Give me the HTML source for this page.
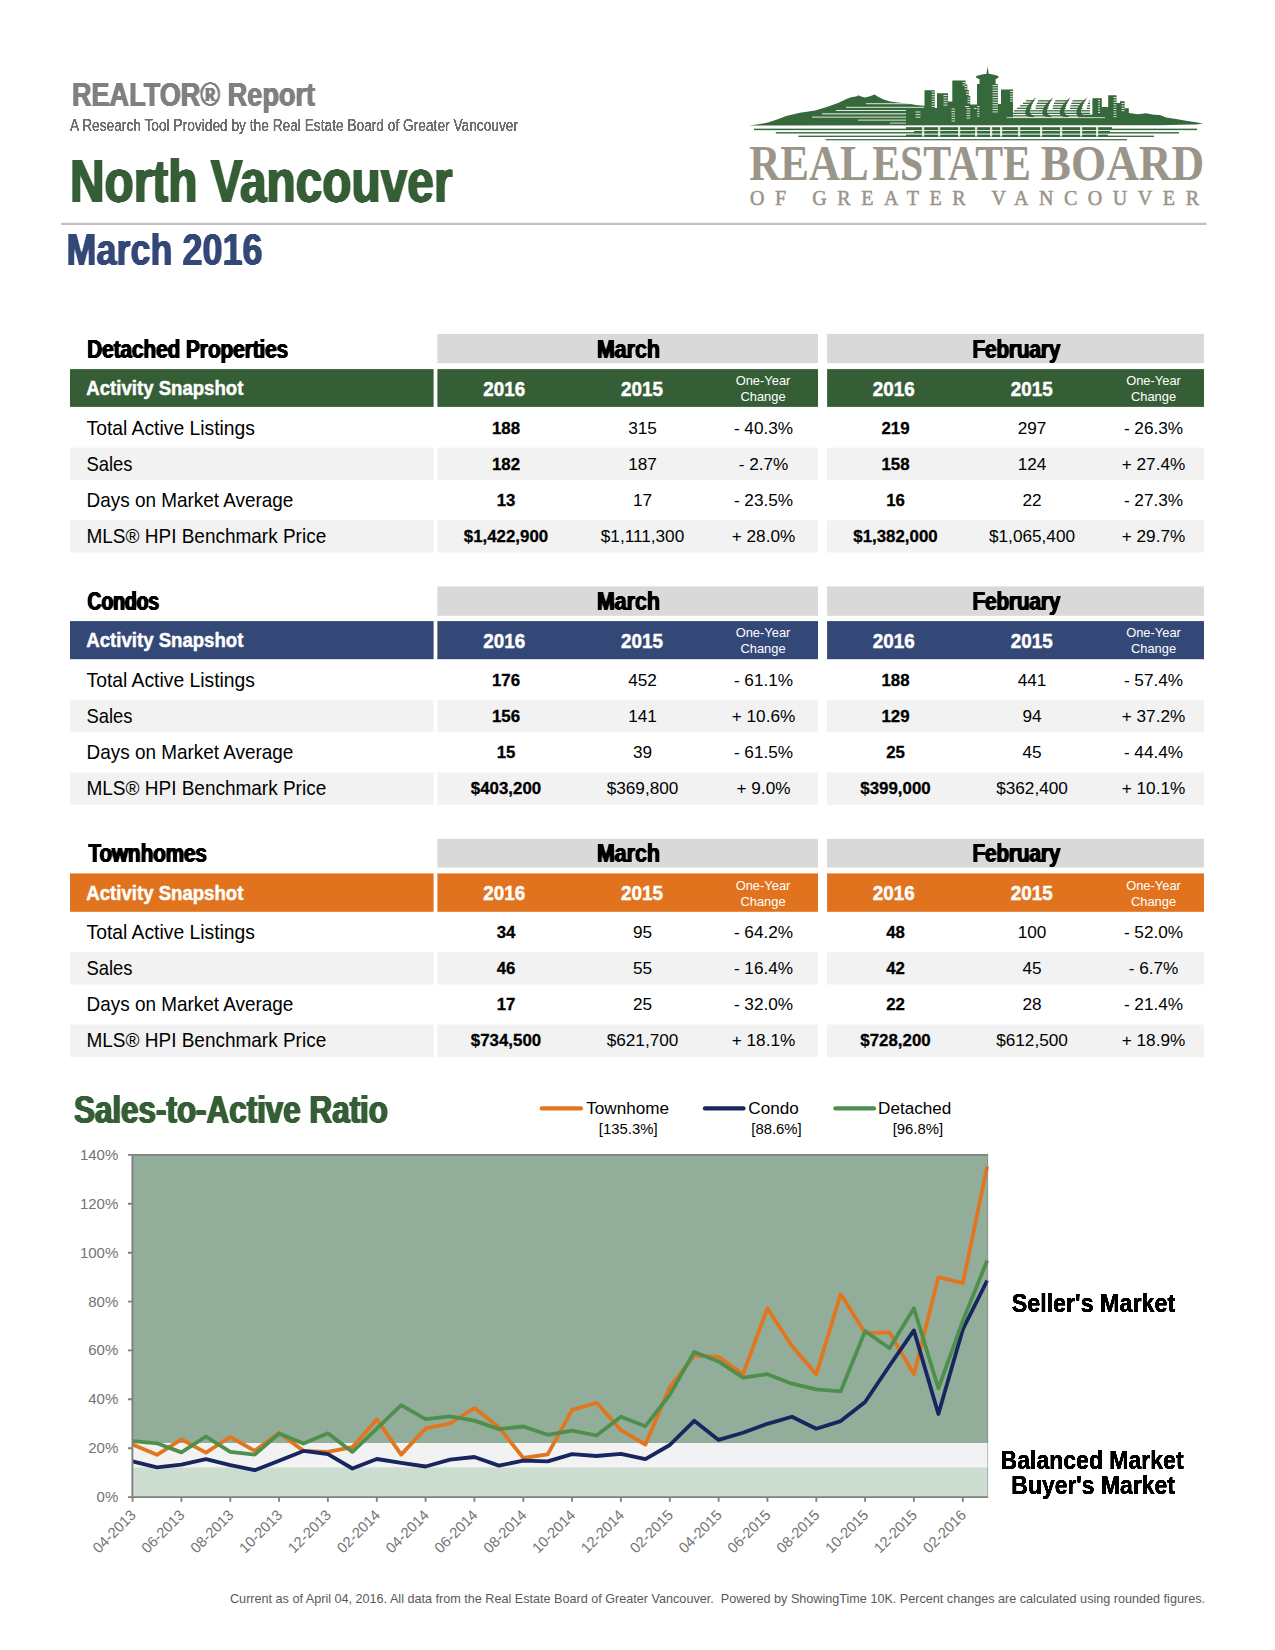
<!DOCTYPE html>
<html lang="en"><head><meta charset="utf-8"><title>REALTOR® Report - North Vancouver - March 2016</title>
<style>
html,body{margin:0;padding:0;background:#fff}
body{width:1275px;height:1650px;overflow:hidden;font-family:"Liberation Sans",Arial,sans-serif}
svg{display:block}
text{white-space:pre}
</style></head><body>
<svg width="1275" height="1650" viewBox="0 0 1275 1650">
<rect width="1275" height="1650" fill="#fff"/>
<defs><filter id="fat7" x="-2%" y="-20%" width="104%" height="140%" color-interpolation-filters="sRGB"><feGaussianBlur stdDeviation="0.7 0"/><feComponentTransfer><feFuncA type="linear" slope="3" intercept="-0.214"/></feComponentTransfer></filter><filter id="fat9" x="-2%" y="-20%" width="104%" height="140%" color-interpolation-filters="sRGB"><feGaussianBlur stdDeviation="0.7 0"/><feComponentTransfer><feFuncA type="linear" slope="3" intercept="-0.019"/></feComponentTransfer></filter><filter id="fat11" x="-2%" y="-20%" width="104%" height="140%" color-interpolation-filters="sRGB"><feGaussianBlur stdDeviation="1.0 0"/><feComponentTransfer><feFuncA type="linear" slope="3" intercept="-0.474"/></feComponentTransfer></filter><filter id="fat12" x="-2%" y="-20%" width="104%" height="140%" color-interpolation-filters="sRGB"><feGaussianBlur stdDeviation="1.0 0"/><feComponentTransfer><feFuncA type="linear" slope="3" intercept="-0.439"/></feComponentTransfer></filter><filter id="fat13" x="-2%" y="-20%" width="104%" height="140%" color-interpolation-filters="sRGB"><feGaussianBlur stdDeviation="1.0 0"/><feComponentTransfer><feFuncA type="linear" slope="3" intercept="-0.404"/></feComponentTransfer></filter><filter id="fat14" x="-2%" y="-20%" width="104%" height="140%" color-interpolation-filters="sRGB"><feGaussianBlur stdDeviation="1.0 0"/><feComponentTransfer><feFuncA type="linear" slope="3" intercept="-0.368"/></feComponentTransfer></filter><filter id="fat18" x="-2%" y="-20%" width="104%" height="140%" color-interpolation-filters="sRGB"><feGaussianBlur stdDeviation="1.0 0"/><feComponentTransfer><feFuncA type="linear" slope="3" intercept="-0.228"/></feComponentTransfer></filter><filter id="fat19" x="-2%" y="-20%" width="104%" height="140%" color-interpolation-filters="sRGB"><feGaussianBlur stdDeviation="1.0 0"/><feComponentTransfer><feFuncA type="linear" slope="3" intercept="-0.193"/></feComponentTransfer></filter></defs>
<text x="72.0" y="105.5" font-family='"Liberation Sans", Arial, sans-serif' font-size="33.7" fill="#808080" font-weight="bold" textLength="243.0" lengthAdjust="spacingAndGlyphs" filter="url(#fat11)">REALTOR® Report</text>
<text x="70.0" y="131.4" font-family='"Liberation Sans", Arial, sans-serif' font-size="16.3" fill="#6e6e6e" textLength="448.0" lengthAdjust="spacingAndGlyphs" filter="url(#fat7)">A Research Tool Provided by the Real Estate Board of Greater Vancouver</text>
<text x="70.0" y="201.8" font-family='"Liberation Sans", Arial, sans-serif' font-size="61" fill="#355e36" font-weight="bold" textLength="382.5" lengthAdjust="spacingAndGlyphs" filter="url(#fat19)">North Vancouver</text>
<rect x="61.0" y="222.8" width="1145.5" height="2.2" fill="#c0c0c0"/>
<text x="66.5" y="265.0" font-family='"Liberation Sans", Arial, sans-serif' font-size="43.7" fill="#344878" font-weight="bold" textLength="196.0" lengthAdjust="spacingAndGlyphs" filter="url(#fat13)">March 2016</text>
<g id="logo">
<path d="M749,125.6 L757,124.6 L768,122.6 L777,119.5 L787,115.8 L800,112.8 L815,110.6 L826,107.2 L838,103 L846,99.3 L851,97.2 L856,96.4 L858.6,95.2 L861,96.6 L865,97.6 L870,96.2 L874.6,94.6 L878,96.8 L883,99.2 L890,101.4 L898,102.6 L907.5,103.6 L916,105 L924.5,105.8 L924.5,90.2 L934.8,90.2 L934.8,108 L937,108 L937,93.2 L948,93.2 L948,101.5 L952.3,101.5 L952.3,80.4 L965.6,80.4 L965.6,84.5 L967.3,84.5 L967.3,90 L968.8,90 L968.8,96 L970.3,96 L970.3,104.6 L977,104.6 L977,84 L979.5,84 L979.5,79.2 L976.2,77.8 L976.2,76 L982,74.6 L986.5,73.8 L987.6,66.5 L988.7,73.8 L993,74.6 L998.4,76 L998.4,77.8 L995.6,79.2 L995.6,84 L998,84 L998,104 L1001,104 L1001,89.4 L1013,89.4 L1013,102.5 L1013,117.6 L1092.4,117.6 L1092.4,98.2 L1101.8,98.2 L1101.8,107 L1108.2,107 L1108.2,95.3 L1116.5,95.3 L1116.5,103 L1120,103 L1120,101.2 L1124.7,101.2 L1124.7,108.2 L1128.8,108.2 L1128.8,113 L1138,114.2 L1146,113.2 L1154,114.8 L1160,115 L1166,117.6 L1176,119 L1186,120.8 L1196,122.3 L1203,123.6 L1196,124.6 L1180,124.8 L1160,125.2 Z" fill="#35683a"/>
<rect x="866" y="103.2" width="44" height="1.0" fill="#fff" opacity=".85"/>
<rect x="846" y="106.8" width="78" height="1.0" fill="#fff" opacity=".85"/>
<rect x="836" y="110.0" width="70" height="1.0" fill="#fff" opacity=".85"/>
<rect x="822" y="113.3" width="84" height="1.1" fill="#fff" opacity=".85"/>
<rect x="812" y="116.6" width="94" height="1.0" fill="#fff" opacity=".85"/>
<rect x="858" y="119.6" width="48" height="1.0" fill="#fff" opacity=".85"/>
<rect x="890" y="122.6" width="16" height="0.9" fill="#fff" opacity=".85"/>
<rect x="931.6" y="91.5" width="3.2" height="1.0" fill="#fff" opacity="0.8"/>
<rect x="931.6" y="93.9" width="3.2" height="1.0" fill="#fff" opacity="0.8"/>
<rect x="931.6" y="96.3" width="3.2" height="1.0" fill="#fff" opacity="0.8"/>
<rect x="931.6" y="98.7" width="3.2" height="1.0" fill="#fff" opacity="0.8"/>
<rect x="931.6" y="101.1" width="3.2" height="1.0" fill="#fff" opacity="0.8"/>
<rect x="931.6" y="103.5" width="3.2" height="1.0" fill="#fff" opacity="0.8"/>
<rect x="931.6" y="105.9" width="3.2" height="1.0" fill="#fff" opacity="0.8"/>
<rect x="943.5" y="95.0" width="4.0" height="1.0" fill="#fff" opacity="0.8"/>
<rect x="943.5" y="97.4" width="4.0" height="1.0" fill="#fff" opacity="0.8"/>
<rect x="943.5" y="99.8" width="4.0" height="1.0" fill="#fff" opacity="0.8"/>
<rect x="943.5" y="102.2" width="4.0" height="1.0" fill="#fff" opacity="0.8"/>
<rect x="943.5" y="104.6" width="4.0" height="1.0" fill="#fff" opacity="0.8"/>
<rect x="962.5" y="82.0" width="3.1" height="1.0" fill="#fff" opacity="0.8"/>
<rect x="962.5" y="84.4" width="3.1" height="1.0" fill="#fff" opacity="0.8"/>
<rect x="964.5" y="86.0" width="2.8" height="1.0" fill="#fff" opacity="0.8"/>
<rect x="964.5" y="88.4" width="2.8" height="1.0" fill="#fff" opacity="0.8"/>
<rect x="966" y="91.5" width="2.8" height="1.0" fill="#fff" opacity="0.8"/>
<rect x="966" y="93.9" width="2.8" height="1.0" fill="#fff" opacity="0.8"/>
<rect x="967.5" y="97.5" width="2.8" height="1.0" fill="#fff" opacity="0.8"/>
<rect x="967.5" y="99.9" width="2.8" height="1.0" fill="#fff" opacity="0.8"/>
<rect x="967.5" y="102.3" width="2.8" height="1.0" fill="#fff" opacity="0.8"/>
<rect x="915.5" y="111.5" width="5.0" height="1.0" fill="#fff" opacity="0.8"/>
<rect x="915.5" y="114.1" width="5.0" height="1.0" fill="#fff" opacity="0.8"/>
<rect x="915.5" y="116.7" width="5.0" height="1.0" fill="#fff" opacity="0.8"/>
<rect x="951.5" y="108.5" width="3.5" height="1.0" fill="#fff" opacity="0.8"/>
<rect x="951.5" y="110.9" width="3.5" height="1.0" fill="#fff" opacity="0.8"/>
<rect x="951.5" y="113.3" width="3.5" height="1.0" fill="#fff" opacity="0.8"/>
<rect x="951.5" y="115.7" width="3.5" height="1.0" fill="#fff" opacity="0.8"/>
<rect x="951.5" y="118.1" width="3.5" height="1.0" fill="#fff" opacity="0.8"/>
<rect x="951.5" y="120.5" width="3.5" height="1.0" fill="#fff" opacity="0.8"/>
<rect x="966.5" y="108.0" width="3.8" height="1.0" fill="#fff" opacity="0.8"/>
<rect x="966.5" y="110.4" width="3.8" height="1.0" fill="#fff" opacity="0.8"/>
<rect x="966.5" y="112.8" width="3.8" height="1.0" fill="#fff" opacity="0.8"/>
<rect x="966.5" y="115.2" width="3.8" height="1.0" fill="#fff" opacity="0.8"/>
<rect x="966.5" y="117.6" width="3.8" height="1.0" fill="#fff" opacity="0.8"/>
<rect x="974" y="108.0" width="2.5" height="1.0" fill="#fff" opacity="0.8"/>
<rect x="965" y="106.0" width="4.0" height="1.0" fill="#fff" opacity="0.8"/>
<rect x="992.5" y="85.0" width="5.5" height="1.0" fill="#fff" opacity="0.8"/>
<rect x="992.5" y="87.4" width="5.5" height="1.0" fill="#fff" opacity="0.8"/>
<rect x="992.5" y="89.8" width="5.5" height="1.0" fill="#fff" opacity="0.8"/>
<rect x="992.5" y="92.2" width="5.5" height="1.0" fill="#fff" opacity="0.8"/>
<rect x="992.5" y="94.6" width="5.5" height="1.0" fill="#fff" opacity="0.8"/>
<rect x="992.5" y="97.0" width="5.5" height="1.0" fill="#fff" opacity="0.8"/>
<rect x="992.5" y="99.4" width="5.5" height="1.0" fill="#fff" opacity="0.8"/>
<rect x="992.5" y="101.8" width="5.5" height="1.0" fill="#fff" opacity="0.8"/>
<rect x="992.5" y="104.2" width="5.5" height="1.0" fill="#fff" opacity="0.8"/>
<rect x="992.5" y="106.6" width="5.5" height="1.0" fill="#fff" opacity="0.8"/>
<rect x="992.5" y="109.0" width="5.5" height="1.0" fill="#fff" opacity="0.8"/>
<rect x="992.5" y="111.4" width="5.5" height="1.0" fill="#fff" opacity="0.8"/>
<rect x="977" y="106.0" width="2.5" height="1.0" fill="#fff" opacity="0.8"/>
<rect x="977" y="108.4" width="2.5" height="1.0" fill="#fff" opacity="0.8"/>
<rect x="977" y="110.8" width="2.5" height="1.0" fill="#fff" opacity="0.8"/>
<rect x="977" y="113.2" width="2.5" height="1.0" fill="#fff" opacity="0.8"/>
<rect x="977" y="115.6" width="2.5" height="1.0" fill="#fff" opacity="0.8"/>
<rect x="1010" y="91.0" width="3.0" height="1.0" fill="#fff" opacity="0.8"/>
<rect x="1010" y="93.4" width="3.0" height="1.0" fill="#fff" opacity="0.8"/>
<rect x="1010" y="95.8" width="3.0" height="1.0" fill="#fff" opacity="0.8"/>
<rect x="1010" y="98.2" width="3.0" height="1.0" fill="#fff" opacity="0.8"/>
<rect x="1010" y="100.6" width="3.0" height="1.0" fill="#fff" opacity="0.8"/>
<rect x="1098" y="100.0" width="2.0" height="1.0" fill="#fff" opacity="0.8"/>
<rect x="1098" y="102.4" width="2.0" height="1.0" fill="#fff" opacity="0.8"/>
<rect x="1098" y="104.8" width="2.0" height="1.0" fill="#fff" opacity="0.8"/>
<rect x="1098" y="107.2" width="2.0" height="1.0" fill="#fff" opacity="0.8"/>
<rect x="1098" y="109.6" width="2.0" height="1.0" fill="#fff" opacity="0.8"/>
<rect x="1098" y="112.0" width="2.0" height="1.0" fill="#fff" opacity="0.8"/>
<rect x="1113.5" y="97.0" width="2.9" height="1.0" fill="#fff" opacity="0.8"/>
<rect x="1113.5" y="99.4" width="2.9" height="1.0" fill="#fff" opacity="0.8"/>
<rect x="1113.5" y="101.8" width="2.9" height="1.0" fill="#fff" opacity="0.8"/>
<rect x="1113.5" y="104.2" width="2.9" height="1.0" fill="#fff" opacity="0.8"/>
<rect x="1113.5" y="106.6" width="2.9" height="1.0" fill="#fff" opacity="0.8"/>
<rect x="1113.5" y="109.0" width="2.9" height="1.0" fill="#fff" opacity="0.8"/>
<rect x="1113.5" y="111.4" width="2.9" height="1.0" fill="#fff" opacity="0.8"/>
<rect x="1113.5" y="113.8" width="2.9" height="1.0" fill="#fff" opacity="0.8"/>
<rect x="1113.5" y="116.2" width="2.9" height="1.0" fill="#fff" opacity="0.8"/>
<rect x="1121.5" y="103.0" width="3.1" height="1.0" fill="#fff" opacity="0.8"/>
<rect x="1121.5" y="105.4" width="3.1" height="1.0" fill="#fff" opacity="0.8"/>
<rect x="1121.5" y="107.8" width="3.1" height="1.0" fill="#fff" opacity="0.8"/>
<rect x="1121.5" y="110.2" width="3.1" height="1.0" fill="#fff" opacity="0.8"/>
<rect x="1026.0" y="100.2" width="64.0" height="1.25" fill="#35683a"/>
<rect x="1023.0" y="102.7" width="67.0" height="1.25" fill="#35683a"/>
<rect x="1020.0" y="105.2" width="70.0" height="1.25" fill="#35683a"/>
<rect x="1017.0" y="107.7" width="73.0" height="1.25" fill="#35683a"/>
<rect x="1014.0" y="110.2" width="76.0" height="1.25" fill="#35683a"/>
<rect x="1011.0" y="112.7" width="79.0" height="1.25" fill="#35683a"/>
<rect x="1008.0" y="115.2" width="82.0" height="1.25" fill="#35683a"/>
<path d="M1037.1,97.2 C1033.5,101 1031.0,106 1031.3,110 L1035.3,110 C1035.5,105 1038.0,100.6 1039.9,97.2 Z" fill="#fff"/>
<path d="M1036.5,97.2 C1030.5,101 1024.7,108 1025.3,113.6 C1025.7,116.4 1028.5,117.4 1034.0,117.2 L1034.0,115.6 C1030.1,115 1029.3,112 1030.3,108.5 C1031.5,104 1033.9,100 1036.5,97.2 Z" fill="#35683a"/>
<path d="M1054.1999999999998,97.2 C1050.6,101 1048.1,106 1048.3999999999999,110 L1052.3999999999999,110 C1052.6,105 1055.1,100.6 1057.0,97.2 Z" fill="#fff"/>
<path d="M1053.6,97.2 C1047.6,101 1041.8,108 1042.3999999999999,113.6 C1042.8,116.4 1045.6,117.4 1051.1,117.2 L1051.1,115.6 C1047.1999999999998,115 1046.3999999999999,112 1047.3999999999999,108.5 C1048.6,104 1051.0,100 1053.6,97.2 Z" fill="#35683a"/>
<path d="M1071.6,97.2 C1068.0,101 1065.5,106 1065.8,110 L1069.8,110 C1070.0,105 1072.5,100.6 1074.4,97.2 Z" fill="#fff"/>
<path d="M1071.0,97.2 C1065.0,101 1059.2,108 1059.8,113.6 C1060.2,116.4 1063.0,117.4 1068.5,117.2 L1068.5,115.6 C1064.6,115 1063.8,112 1064.8,108.5 C1066.0,104 1068.4,100 1071.0,97.2 Z" fill="#35683a"/>
<path d="M1088.1999999999998,97.2 C1084.6,101 1082.1,106 1082.3999999999999,110 L1086.3999999999999,110 C1086.6,105 1089.1,100.6 1091.0,97.2 Z" fill="#fff"/>
<path d="M1087.6,97.2 C1081.6,101 1075.8,108 1076.3999999999999,113.6 C1076.8,116.4 1079.6,117.4 1085.1,117.2 L1085.1,115.6 C1081.1999999999998,115 1080.3999999999999,112 1081.3999999999999,108.5 C1082.6,104 1085.0,100 1087.6,97.2 Z" fill="#35683a"/>
<rect x="1078" y="114.6" width="15" height="3.2" fill="#35683a"/>
<rect x="1006.5" y="117.3" width="98.5" height="0.8" fill="#fff" opacity=".9"/>
<rect x="754" y="128.65" width="443" height="1.5" fill="#35683a"/>
<rect x="775.8" y="132.10" width="403.20000000000005" height="1.4" fill="#35683a"/>
<rect x="798.4" y="135.65" width="355.6" height="1.3" fill="#35683a"/>
<rect x="825.6" y="139.10" width="301.4" height="1.2" fill="#35683a"/>
<rect x="906" y="127.2" width="206" height="2.4" fill="#35683a"/>
<rect x="914" y="131.0" width="196" height="2.2" fill="#35683a"/>
<rect x="906" y="134.6" width="202" height="1.8" fill="#35683a"/>
<rect x="922" y="126.8" width="2.2" height="9.8" fill="#fff" opacity=".8"/>
<rect x="938" y="126.8" width="2.2" height="9.8" fill="#fff" opacity=".8"/>
<rect x="958" y="126.8" width="2.2" height="9.8" fill="#fff" opacity=".8"/>
<rect x="975" y="126.8" width="2.2" height="9.8" fill="#fff" opacity=".8"/>
<rect x="990" y="126.8" width="2.2" height="9.8" fill="#fff" opacity=".8"/>
<rect x="1000" y="126.8" width="2.2" height="9.8" fill="#fff" opacity=".8"/>
<rect x="1018" y="126.8" width="2.2" height="9.8" fill="#fff" opacity=".8"/>
<rect x="1040" y="126.8" width="2.2" height="9.8" fill="#fff" opacity=".8"/>
<rect x="1060" y="126.8" width="2.2" height="9.8" fill="#fff" opacity=".8"/>
<rect x="1080" y="126.8" width="2.2" height="9.8" fill="#fff" opacity=".8"/>
<rect x="1096" y="126.8" width="2.2" height="9.8" fill="#fff" opacity=".8"/>
<filter id="fatlogo" x="-2%" y="-20%" width="104%" height="140%" color-interpolation-filters="sRGB"><feGaussianBlur stdDeviation="1 0"/><feComponentTransfer><feFuncA type="linear" slope="3" intercept="-0.45"/></feComponentTransfer></filter>
<text y="179.6" font-family='"Liberation Serif", "Times New Roman", serif' font-weight="bold" font-size="50.8" fill="#9a9489"><tspan x="749.3" textLength="117" lengthAdjust="spacingAndGlyphs">REAL</tspan> <tspan x="872.2" textLength="158.8" lengthAdjust="spacingAndGlyphs">ESTATE</tspan> <tspan x="1040.8" textLength="163.4" lengthAdjust="spacingAndGlyphs">BOARD</tspan></text>
<text x="750" y="204.6" font-family='"Liberation Serif", "Times New Roman", serif' font-size="20" fill="#9a9489" stroke="#9a9489" stroke-width="0.5" textLength="449" lengthAdjust="spacing">OF GREATER VANCOUVER</text>
</g>

<g id="table1">
<text x="87.3" y="357.8" font-family='"Liberation Sans", Arial, sans-serif' font-size="25.6" fill="#000" font-weight="bold" textLength="201.0" lengthAdjust="spacingAndGlyphs" filter="url(#fat12)">Detached Properties</text>
<rect x="437.4" y="333.9" width="380.6" height="29.2" fill="#d9d9d9"/>
<rect x="827.1" y="333.9" width="376.9" height="29.2" fill="#d9d9d9"/>
<text x="628.5" y="357.8" font-family='"Liberation Sans", Arial, sans-serif' font-size="25.6" fill="#000" font-weight="bold" text-anchor="middle" textLength="63.0" lengthAdjust="spacingAndGlyphs" filter="url(#fat11)">March</text>
<text x="1016.5" y="357.8" font-family='"Liberation Sans", Arial, sans-serif' font-size="25.6" fill="#000" font-weight="bold" text-anchor="middle" textLength="88.0" lengthAdjust="spacingAndGlyphs" filter="url(#fat12)">February</text>
<rect x="70.0" y="369.1" width="363.6" height="37.8" fill="#355e36"/>
<rect x="437.4" y="369.1" width="380.6" height="37.8" fill="#355e36"/>
<rect x="827.1" y="369.1" width="376.9" height="37.8" fill="#355e36"/>
<text x="86.3" y="395.2" font-family='"Liberation Sans", Arial, sans-serif' font-size="19.3" fill="#fff" font-weight="bold" textLength="157.1" lengthAdjust="spacingAndGlyphs" stroke="#fff" stroke-width=".45">Activity Snapshot</text>
<text x="504.2" y="395.9" font-family='"Liberation Sans", Arial, sans-serif' font-size="19.3" fill="#fff" font-weight="bold" text-anchor="middle" textLength="41.8" lengthAdjust="spacingAndGlyphs" stroke="#fff" stroke-width=".45">2016</text>
<text x="642.0" y="395.9" font-family='"Liberation Sans", Arial, sans-serif' font-size="19.3" fill="#fff" font-weight="bold" text-anchor="middle" textLength="41.8" lengthAdjust="spacingAndGlyphs" stroke="#fff" stroke-width=".45">2015</text>
<text x="763.0" y="385.2" font-family='"Liberation Sans", Arial, sans-serif' font-size="12.9" fill="#fff" text-anchor="middle">One-Year</text>
<text x="763.0" y="401.2" font-family='"Liberation Sans", Arial, sans-serif' font-size="12.9" fill="#fff" text-anchor="middle">Change</text>
<text x="893.7" y="395.9" font-family='"Liberation Sans", Arial, sans-serif' font-size="19.3" fill="#fff" font-weight="bold" text-anchor="middle" textLength="41.8" lengthAdjust="spacingAndGlyphs" stroke="#fff" stroke-width=".45">2016</text>
<text x="1031.7" y="395.9" font-family='"Liberation Sans", Arial, sans-serif' font-size="19.3" fill="#fff" font-weight="bold" text-anchor="middle" textLength="41.8" lengthAdjust="spacingAndGlyphs" stroke="#fff" stroke-width=".45">2015</text>
<text x="1153.5" y="385.2" font-family='"Liberation Sans", Arial, sans-serif' font-size="12.9" fill="#fff" text-anchor="middle">One-Year</text>
<text x="1153.5" y="401.2" font-family='"Liberation Sans", Arial, sans-serif' font-size="12.9" fill="#fff" text-anchor="middle">Change</text>
<text x="86.5" y="434.6" font-family='"Liberation Sans", Arial, sans-serif' font-size="19.35" fill="#000" textLength="168.5" lengthAdjust="spacingAndGlyphs">Total Active Listings</text>
<text x="506.0" y="433.7" font-family='"Liberation Sans", Arial, sans-serif' font-size="17.2" fill="#000" font-weight="bold" text-anchor="middle" textLength="28.1" lengthAdjust="spacingAndGlyphs" stroke="#000" stroke-width=".3">188</text>
<text x="642.5" y="433.7" font-family='"Liberation Sans", Arial, sans-serif' font-size="17.2" fill="#000" text-anchor="middle">315</text>
<text x="763.5" y="433.7" font-family='"Liberation Sans", Arial, sans-serif' font-size="17.2" fill="#000" text-anchor="middle">- 40.3%</text>
<text x="895.5" y="433.7" font-family='"Liberation Sans", Arial, sans-serif' font-size="17.2" fill="#000" font-weight="bold" text-anchor="middle" textLength="28.1" lengthAdjust="spacingAndGlyphs" stroke="#000" stroke-width=".3">219</text>
<text x="1032.0" y="433.7" font-family='"Liberation Sans", Arial, sans-serif' font-size="17.2" fill="#000" text-anchor="middle">297</text>
<text x="1153.5" y="433.7" font-family='"Liberation Sans", Arial, sans-serif' font-size="17.2" fill="#000" text-anchor="middle">- 26.3%</text>
<rect x="70.0" y="447.6" width="363.6" height="32.4" fill="#f2f2f2"/>
<rect x="437.4" y="447.6" width="380.6" height="32.4" fill="#f2f2f2"/>
<rect x="827.1" y="447.6" width="376.9" height="32.4" fill="#f2f2f2"/>
<text x="86.5" y="470.7" font-family='"Liberation Sans", Arial, sans-serif' font-size="19.35" fill="#000" textLength="46.0" lengthAdjust="spacingAndGlyphs">Sales</text>
<text x="506.0" y="469.8" font-family='"Liberation Sans", Arial, sans-serif' font-size="17.2" fill="#000" font-weight="bold" text-anchor="middle" textLength="28.1" lengthAdjust="spacingAndGlyphs" stroke="#000" stroke-width=".3">182</text>
<text x="642.5" y="469.8" font-family='"Liberation Sans", Arial, sans-serif' font-size="17.2" fill="#000" text-anchor="middle">187</text>
<text x="763.5" y="469.8" font-family='"Liberation Sans", Arial, sans-serif' font-size="17.2" fill="#000" text-anchor="middle">- 2.7%</text>
<text x="895.5" y="469.8" font-family='"Liberation Sans", Arial, sans-serif' font-size="17.2" fill="#000" font-weight="bold" text-anchor="middle" textLength="28.1" lengthAdjust="spacingAndGlyphs" stroke="#000" stroke-width=".3">158</text>
<text x="1032.0" y="469.8" font-family='"Liberation Sans", Arial, sans-serif' font-size="17.2" fill="#000" text-anchor="middle">124</text>
<text x="1153.5" y="469.8" font-family='"Liberation Sans", Arial, sans-serif' font-size="17.2" fill="#000" text-anchor="middle">+ 27.4%</text>
<text x="86.5" y="506.7" font-family='"Liberation Sans", Arial, sans-serif' font-size="19.35" fill="#000" textLength="206.9" lengthAdjust="spacingAndGlyphs">Days on Market Average</text>
<text x="506.0" y="505.8" font-family='"Liberation Sans", Arial, sans-serif' font-size="17.2" fill="#000" font-weight="bold" text-anchor="middle" textLength="18.7" lengthAdjust="spacingAndGlyphs" stroke="#000" stroke-width=".3">13</text>
<text x="642.5" y="505.8" font-family='"Liberation Sans", Arial, sans-serif' font-size="17.2" fill="#000" text-anchor="middle">17</text>
<text x="763.5" y="505.8" font-family='"Liberation Sans", Arial, sans-serif' font-size="17.2" fill="#000" text-anchor="middle">- 23.5%</text>
<text x="895.5" y="505.8" font-family='"Liberation Sans", Arial, sans-serif' font-size="17.2" fill="#000" font-weight="bold" text-anchor="middle" textLength="18.7" lengthAdjust="spacingAndGlyphs" stroke="#000" stroke-width=".3">16</text>
<text x="1032.0" y="505.8" font-family='"Liberation Sans", Arial, sans-serif' font-size="17.2" fill="#000" text-anchor="middle">22</text>
<text x="1153.5" y="505.8" font-family='"Liberation Sans", Arial, sans-serif' font-size="17.2" fill="#000" text-anchor="middle">- 27.3%</text>
<rect x="70.0" y="520.1" width="363.6" height="32.4" fill="#f2f2f2"/>
<rect x="437.4" y="520.1" width="380.6" height="32.4" fill="#f2f2f2"/>
<rect x="827.1" y="520.1" width="376.9" height="32.4" fill="#f2f2f2"/>
<text x="86.5" y="542.8" font-family='"Liberation Sans", Arial, sans-serif' font-size="19.35" fill="#000" textLength="239.7" lengthAdjust="spacingAndGlyphs">MLS® HPI Benchmark Price</text>
<text x="506.0" y="541.9" font-family='"Liberation Sans", Arial, sans-serif' font-size="17.2" fill="#000" font-weight="bold" text-anchor="middle" textLength="84.3" lengthAdjust="spacingAndGlyphs" stroke="#000" stroke-width=".3">$1,422,900</text>
<text x="642.5" y="541.9" font-family='"Liberation Sans", Arial, sans-serif' font-size="17.2" fill="#000" text-anchor="middle">$1,111,300</text>
<text x="763.5" y="541.9" font-family='"Liberation Sans", Arial, sans-serif' font-size="17.2" fill="#000" text-anchor="middle">+ 28.0%</text>
<text x="895.5" y="541.9" font-family='"Liberation Sans", Arial, sans-serif' font-size="17.2" fill="#000" font-weight="bold" text-anchor="middle" textLength="84.3" lengthAdjust="spacingAndGlyphs" stroke="#000" stroke-width=".3">$1,382,000</text>
<text x="1032.0" y="541.9" font-family='"Liberation Sans", Arial, sans-serif' font-size="17.2" fill="#000" text-anchor="middle">$1,065,400</text>
<text x="1153.5" y="541.9" font-family='"Liberation Sans", Arial, sans-serif' font-size="17.2" fill="#000" text-anchor="middle">+ 29.7%</text>
</g>
<g id="table2">
<text x="87.6" y="610.0" font-family='"Liberation Sans", Arial, sans-serif' font-size="25.6" fill="#000" font-weight="bold" textLength="71.5" lengthAdjust="spacingAndGlyphs" filter="url(#fat14)">Condos</text>
<rect x="437.4" y="586.4" width="380.6" height="29.4" fill="#d9d9d9"/>
<rect x="827.1" y="586.4" width="376.9" height="29.4" fill="#d9d9d9"/>
<text x="628.5" y="610.0" font-family='"Liberation Sans", Arial, sans-serif' font-size="25.6" fill="#000" font-weight="bold" text-anchor="middle" textLength="63.0" lengthAdjust="spacingAndGlyphs" filter="url(#fat11)">March</text>
<text x="1016.5" y="610.0" font-family='"Liberation Sans", Arial, sans-serif' font-size="25.6" fill="#000" font-weight="bold" text-anchor="middle" textLength="88.0" lengthAdjust="spacingAndGlyphs" filter="url(#fat12)">February</text>
<rect x="70.0" y="621.1" width="363.6" height="38.1" fill="#344878"/>
<rect x="437.4" y="621.1" width="380.6" height="38.1" fill="#344878"/>
<rect x="827.1" y="621.1" width="376.9" height="38.1" fill="#344878"/>
<text x="86.3" y="647.4" font-family='"Liberation Sans", Arial, sans-serif' font-size="19.3" fill="#fff" font-weight="bold" textLength="157.1" lengthAdjust="spacingAndGlyphs" stroke="#fff" stroke-width=".45">Activity Snapshot</text>
<text x="504.2" y="648.1" font-family='"Liberation Sans", Arial, sans-serif' font-size="19.3" fill="#fff" font-weight="bold" text-anchor="middle" textLength="41.8" lengthAdjust="spacingAndGlyphs" stroke="#fff" stroke-width=".45">2016</text>
<text x="642.0" y="648.1" font-family='"Liberation Sans", Arial, sans-serif' font-size="19.3" fill="#fff" font-weight="bold" text-anchor="middle" textLength="41.8" lengthAdjust="spacingAndGlyphs" stroke="#fff" stroke-width=".45">2015</text>
<text x="763.0" y="637.4" font-family='"Liberation Sans", Arial, sans-serif' font-size="12.9" fill="#fff" text-anchor="middle">One-Year</text>
<text x="763.0" y="653.4" font-family='"Liberation Sans", Arial, sans-serif' font-size="12.9" fill="#fff" text-anchor="middle">Change</text>
<text x="893.7" y="648.1" font-family='"Liberation Sans", Arial, sans-serif' font-size="19.3" fill="#fff" font-weight="bold" text-anchor="middle" textLength="41.8" lengthAdjust="spacingAndGlyphs" stroke="#fff" stroke-width=".45">2016</text>
<text x="1031.7" y="648.1" font-family='"Liberation Sans", Arial, sans-serif' font-size="19.3" fill="#fff" font-weight="bold" text-anchor="middle" textLength="41.8" lengthAdjust="spacingAndGlyphs" stroke="#fff" stroke-width=".45">2015</text>
<text x="1153.5" y="637.4" font-family='"Liberation Sans", Arial, sans-serif' font-size="12.9" fill="#fff" text-anchor="middle">One-Year</text>
<text x="1153.5" y="653.4" font-family='"Liberation Sans", Arial, sans-serif' font-size="12.9" fill="#fff" text-anchor="middle">Change</text>
<text x="86.5" y="686.8" font-family='"Liberation Sans", Arial, sans-serif' font-size="19.35" fill="#000" textLength="168.5" lengthAdjust="spacingAndGlyphs">Total Active Listings</text>
<text x="506.0" y="685.9" font-family='"Liberation Sans", Arial, sans-serif' font-size="17.2" fill="#000" font-weight="bold" text-anchor="middle" textLength="28.1" lengthAdjust="spacingAndGlyphs" stroke="#000" stroke-width=".3">176</text>
<text x="642.5" y="685.9" font-family='"Liberation Sans", Arial, sans-serif' font-size="17.2" fill="#000" text-anchor="middle">452</text>
<text x="763.5" y="685.9" font-family='"Liberation Sans", Arial, sans-serif' font-size="17.2" fill="#000" text-anchor="middle">- 61.1%</text>
<text x="895.5" y="685.9" font-family='"Liberation Sans", Arial, sans-serif' font-size="17.2" fill="#000" font-weight="bold" text-anchor="middle" textLength="28.1" lengthAdjust="spacingAndGlyphs" stroke="#000" stroke-width=".3">188</text>
<text x="1032.0" y="685.9" font-family='"Liberation Sans", Arial, sans-serif' font-size="17.2" fill="#000" text-anchor="middle">441</text>
<text x="1153.5" y="685.9" font-family='"Liberation Sans", Arial, sans-serif' font-size="17.2" fill="#000" text-anchor="middle">- 57.4%</text>
<rect x="70.0" y="699.9" width="363.6" height="32.4" fill="#f2f2f2"/>
<rect x="437.4" y="699.9" width="380.6" height="32.4" fill="#f2f2f2"/>
<rect x="827.1" y="699.9" width="376.9" height="32.4" fill="#f2f2f2"/>
<text x="86.5" y="722.9" font-family='"Liberation Sans", Arial, sans-serif' font-size="19.35" fill="#000" textLength="46.0" lengthAdjust="spacingAndGlyphs">Sales</text>
<text x="506.0" y="722.0" font-family='"Liberation Sans", Arial, sans-serif' font-size="17.2" fill="#000" font-weight="bold" text-anchor="middle" textLength="28.1" lengthAdjust="spacingAndGlyphs" stroke="#000" stroke-width=".3">156</text>
<text x="642.5" y="722.0" font-family='"Liberation Sans", Arial, sans-serif' font-size="17.2" fill="#000" text-anchor="middle">141</text>
<text x="763.5" y="722.0" font-family='"Liberation Sans", Arial, sans-serif' font-size="17.2" fill="#000" text-anchor="middle">+ 10.6%</text>
<text x="895.5" y="722.0" font-family='"Liberation Sans", Arial, sans-serif' font-size="17.2" fill="#000" font-weight="bold" text-anchor="middle" textLength="28.1" lengthAdjust="spacingAndGlyphs" stroke="#000" stroke-width=".3">129</text>
<text x="1032.0" y="722.0" font-family='"Liberation Sans", Arial, sans-serif' font-size="17.2" fill="#000" text-anchor="middle">94</text>
<text x="1153.5" y="722.0" font-family='"Liberation Sans", Arial, sans-serif' font-size="17.2" fill="#000" text-anchor="middle">+ 37.2%</text>
<text x="86.5" y="758.9" font-family='"Liberation Sans", Arial, sans-serif' font-size="19.35" fill="#000" textLength="206.9" lengthAdjust="spacingAndGlyphs">Days on Market Average</text>
<text x="506.0" y="758.0" font-family='"Liberation Sans", Arial, sans-serif' font-size="17.2" fill="#000" font-weight="bold" text-anchor="middle" textLength="18.7" lengthAdjust="spacingAndGlyphs" stroke="#000" stroke-width=".3">15</text>
<text x="642.5" y="758.0" font-family='"Liberation Sans", Arial, sans-serif' font-size="17.2" fill="#000" text-anchor="middle">39</text>
<text x="763.5" y="758.0" font-family='"Liberation Sans", Arial, sans-serif' font-size="17.2" fill="#000" text-anchor="middle">- 61.5%</text>
<text x="895.5" y="758.0" font-family='"Liberation Sans", Arial, sans-serif' font-size="17.2" fill="#000" font-weight="bold" text-anchor="middle" textLength="18.7" lengthAdjust="spacingAndGlyphs" stroke="#000" stroke-width=".3">25</text>
<text x="1032.0" y="758.0" font-family='"Liberation Sans", Arial, sans-serif' font-size="17.2" fill="#000" text-anchor="middle">45</text>
<text x="1153.5" y="758.0" font-family='"Liberation Sans", Arial, sans-serif' font-size="17.2" fill="#000" text-anchor="middle">- 44.4%</text>
<rect x="70.0" y="772.4" width="363.6" height="32.4" fill="#f2f2f2"/>
<rect x="437.4" y="772.4" width="380.6" height="32.4" fill="#f2f2f2"/>
<rect x="827.1" y="772.4" width="376.9" height="32.4" fill="#f2f2f2"/>
<text x="86.5" y="795.0" font-family='"Liberation Sans", Arial, sans-serif' font-size="19.35" fill="#000" textLength="239.7" lengthAdjust="spacingAndGlyphs">MLS® HPI Benchmark Price</text>
<text x="506.0" y="794.1" font-family='"Liberation Sans", Arial, sans-serif' font-size="17.2" fill="#000" font-weight="bold" text-anchor="middle" textLength="70.3" lengthAdjust="spacingAndGlyphs" stroke="#000" stroke-width=".3">$403,200</text>
<text x="642.5" y="794.1" font-family='"Liberation Sans", Arial, sans-serif' font-size="17.2" fill="#000" text-anchor="middle">$369,800</text>
<text x="763.5" y="794.1" font-family='"Liberation Sans", Arial, sans-serif' font-size="17.2" fill="#000" text-anchor="middle">+ 9.0%</text>
<text x="895.5" y="794.1" font-family='"Liberation Sans", Arial, sans-serif' font-size="17.2" fill="#000" font-weight="bold" text-anchor="middle" textLength="70.3" lengthAdjust="spacingAndGlyphs" stroke="#000" stroke-width=".3">$399,000</text>
<text x="1032.0" y="794.1" font-family='"Liberation Sans", Arial, sans-serif' font-size="17.2" fill="#000" text-anchor="middle">$362,400</text>
<text x="1153.5" y="794.1" font-family='"Liberation Sans", Arial, sans-serif' font-size="17.2" fill="#000" text-anchor="middle">+ 10.1%</text>
</g>
<g id="table3">
<text x="88.5" y="862.2" font-family='"Liberation Sans", Arial, sans-serif' font-size="25.6" fill="#000" font-weight="bold" textLength="118.5" lengthAdjust="spacingAndGlyphs" filter="url(#fat12)">Townhomes</text>
<rect x="437.4" y="838.8" width="380.6" height="28.8" fill="#d9d9d9"/>
<rect x="827.1" y="838.8" width="376.9" height="28.8" fill="#d9d9d9"/>
<text x="628.5" y="862.2" font-family='"Liberation Sans", Arial, sans-serif' font-size="25.6" fill="#000" font-weight="bold" text-anchor="middle" textLength="63.0" lengthAdjust="spacingAndGlyphs" filter="url(#fat11)">March</text>
<text x="1016.5" y="862.2" font-family='"Liberation Sans", Arial, sans-serif' font-size="25.6" fill="#000" font-weight="bold" text-anchor="middle" textLength="88.0" lengthAdjust="spacingAndGlyphs" filter="url(#fat12)">February</text>
<rect x="70.0" y="873.4" width="363.6" height="38.4" fill="#e2731e"/>
<rect x="437.4" y="873.4" width="380.6" height="38.4" fill="#e2731e"/>
<rect x="827.1" y="873.4" width="376.9" height="38.4" fill="#e2731e"/>
<text x="86.3" y="899.6" font-family='"Liberation Sans", Arial, sans-serif' font-size="19.3" fill="#fff" font-weight="bold" textLength="157.1" lengthAdjust="spacingAndGlyphs" stroke="#fff" stroke-width=".45">Activity Snapshot</text>
<text x="504.2" y="900.3" font-family='"Liberation Sans", Arial, sans-serif' font-size="19.3" fill="#fff" font-weight="bold" text-anchor="middle" textLength="41.8" lengthAdjust="spacingAndGlyphs" stroke="#fff" stroke-width=".45">2016</text>
<text x="642.0" y="900.3" font-family='"Liberation Sans", Arial, sans-serif' font-size="19.3" fill="#fff" font-weight="bold" text-anchor="middle" textLength="41.8" lengthAdjust="spacingAndGlyphs" stroke="#fff" stroke-width=".45">2015</text>
<text x="763.0" y="889.6" font-family='"Liberation Sans", Arial, sans-serif' font-size="12.9" fill="#fff" text-anchor="middle">One-Year</text>
<text x="763.0" y="905.6" font-family='"Liberation Sans", Arial, sans-serif' font-size="12.9" fill="#fff" text-anchor="middle">Change</text>
<text x="893.7" y="900.3" font-family='"Liberation Sans", Arial, sans-serif' font-size="19.3" fill="#fff" font-weight="bold" text-anchor="middle" textLength="41.8" lengthAdjust="spacingAndGlyphs" stroke="#fff" stroke-width=".45">2016</text>
<text x="1031.7" y="900.3" font-family='"Liberation Sans", Arial, sans-serif' font-size="19.3" fill="#fff" font-weight="bold" text-anchor="middle" textLength="41.8" lengthAdjust="spacingAndGlyphs" stroke="#fff" stroke-width=".45">2015</text>
<text x="1153.5" y="889.6" font-family='"Liberation Sans", Arial, sans-serif' font-size="12.9" fill="#fff" text-anchor="middle">One-Year</text>
<text x="1153.5" y="905.6" font-family='"Liberation Sans", Arial, sans-serif' font-size="12.9" fill="#fff" text-anchor="middle">Change</text>
<text x="86.5" y="939.0" font-family='"Liberation Sans", Arial, sans-serif' font-size="19.35" fill="#000" textLength="168.5" lengthAdjust="spacingAndGlyphs">Total Active Listings</text>
<text x="506.0" y="938.1" font-family='"Liberation Sans", Arial, sans-serif' font-size="17.2" fill="#000" font-weight="bold" text-anchor="middle" textLength="18.7" lengthAdjust="spacingAndGlyphs" stroke="#000" stroke-width=".3">34</text>
<text x="642.5" y="938.1" font-family='"Liberation Sans", Arial, sans-serif' font-size="17.2" fill="#000" text-anchor="middle">95</text>
<text x="763.5" y="938.1" font-family='"Liberation Sans", Arial, sans-serif' font-size="17.2" fill="#000" text-anchor="middle">- 64.2%</text>
<text x="895.5" y="938.1" font-family='"Liberation Sans", Arial, sans-serif' font-size="17.2" fill="#000" font-weight="bold" text-anchor="middle" textLength="18.7" lengthAdjust="spacingAndGlyphs" stroke="#000" stroke-width=".3">48</text>
<text x="1032.0" y="938.1" font-family='"Liberation Sans", Arial, sans-serif' font-size="17.2" fill="#000" text-anchor="middle">100</text>
<text x="1153.5" y="938.1" font-family='"Liberation Sans", Arial, sans-serif' font-size="17.2" fill="#000" text-anchor="middle">- 52.0%</text>
<rect x="70.0" y="952.1" width="363.6" height="32.4" fill="#f2f2f2"/>
<rect x="437.4" y="952.1" width="380.6" height="32.4" fill="#f2f2f2"/>
<rect x="827.1" y="952.1" width="376.9" height="32.4" fill="#f2f2f2"/>
<text x="86.5" y="975.0" font-family='"Liberation Sans", Arial, sans-serif' font-size="19.35" fill="#000" textLength="46.0" lengthAdjust="spacingAndGlyphs">Sales</text>
<text x="506.0" y="974.1" font-family='"Liberation Sans", Arial, sans-serif' font-size="17.2" fill="#000" font-weight="bold" text-anchor="middle" textLength="18.7" lengthAdjust="spacingAndGlyphs" stroke="#000" stroke-width=".3">46</text>
<text x="642.5" y="974.1" font-family='"Liberation Sans", Arial, sans-serif' font-size="17.2" fill="#000" text-anchor="middle">55</text>
<text x="763.5" y="974.1" font-family='"Liberation Sans", Arial, sans-serif' font-size="17.2" fill="#000" text-anchor="middle">- 16.4%</text>
<text x="895.5" y="974.1" font-family='"Liberation Sans", Arial, sans-serif' font-size="17.2" fill="#000" font-weight="bold" text-anchor="middle" textLength="18.7" lengthAdjust="spacingAndGlyphs" stroke="#000" stroke-width=".3">42</text>
<text x="1032.0" y="974.1" font-family='"Liberation Sans", Arial, sans-serif' font-size="17.2" fill="#000" text-anchor="middle">45</text>
<text x="1153.5" y="974.1" font-family='"Liberation Sans", Arial, sans-serif' font-size="17.2" fill="#000" text-anchor="middle">- 6.7%</text>
<text x="86.5" y="1011.1" font-family='"Liberation Sans", Arial, sans-serif' font-size="19.35" fill="#000" textLength="206.9" lengthAdjust="spacingAndGlyphs">Days on Market Average</text>
<text x="506.0" y="1010.2" font-family='"Liberation Sans", Arial, sans-serif' font-size="17.2" fill="#000" font-weight="bold" text-anchor="middle" textLength="18.7" lengthAdjust="spacingAndGlyphs" stroke="#000" stroke-width=".3">17</text>
<text x="642.5" y="1010.2" font-family='"Liberation Sans", Arial, sans-serif' font-size="17.2" fill="#000" text-anchor="middle">25</text>
<text x="763.5" y="1010.2" font-family='"Liberation Sans", Arial, sans-serif' font-size="17.2" fill="#000" text-anchor="middle">- 32.0%</text>
<text x="895.5" y="1010.2" font-family='"Liberation Sans", Arial, sans-serif' font-size="17.2" fill="#000" font-weight="bold" text-anchor="middle" textLength="18.7" lengthAdjust="spacingAndGlyphs" stroke="#000" stroke-width=".3">22</text>
<text x="1032.0" y="1010.2" font-family='"Liberation Sans", Arial, sans-serif' font-size="17.2" fill="#000" text-anchor="middle">28</text>
<text x="1153.5" y="1010.2" font-family='"Liberation Sans", Arial, sans-serif' font-size="17.2" fill="#000" text-anchor="middle">- 21.4%</text>
<rect x="70.0" y="1024.6" width="363.6" height="32.4" fill="#f2f2f2"/>
<rect x="437.4" y="1024.6" width="380.6" height="32.4" fill="#f2f2f2"/>
<rect x="827.1" y="1024.6" width="376.9" height="32.4" fill="#f2f2f2"/>
<text x="86.5" y="1047.2" font-family='"Liberation Sans", Arial, sans-serif' font-size="19.35" fill="#000" textLength="239.7" lengthAdjust="spacingAndGlyphs">MLS® HPI Benchmark Price</text>
<text x="506.0" y="1046.2" font-family='"Liberation Sans", Arial, sans-serif' font-size="17.2" fill="#000" font-weight="bold" text-anchor="middle" textLength="70.3" lengthAdjust="spacingAndGlyphs" stroke="#000" stroke-width=".3">$734,500</text>
<text x="642.5" y="1046.2" font-family='"Liberation Sans", Arial, sans-serif' font-size="17.2" fill="#000" text-anchor="middle">$621,700</text>
<text x="763.5" y="1046.2" font-family='"Liberation Sans", Arial, sans-serif' font-size="17.2" fill="#000" text-anchor="middle">+ 18.1%</text>
<text x="895.5" y="1046.2" font-family='"Liberation Sans", Arial, sans-serif' font-size="17.2" fill="#000" font-weight="bold" text-anchor="middle" textLength="70.3" lengthAdjust="spacingAndGlyphs" stroke="#000" stroke-width=".3">$728,200</text>
<text x="1032.0" y="1046.2" font-family='"Liberation Sans", Arial, sans-serif' font-size="17.2" fill="#000" text-anchor="middle">$612,500</text>
<text x="1153.5" y="1046.2" font-family='"Liberation Sans", Arial, sans-serif' font-size="17.2" fill="#000" text-anchor="middle">+ 18.9%</text>
</g>
<g id="chart">
<text x="74.0" y="1122.6" font-family='"Liberation Sans", Arial, sans-serif' font-size="38.7" fill="#355e36" font-weight="bold" textLength="314.0" lengthAdjust="spacingAndGlyphs" filter="url(#fat18)">Sales-to-Active Ratio</text>
<rect x="133.0" y="1154.9" width="855.1" height="288.1" fill="#92ae9b"/>
<rect x="133.0" y="1443.0" width="855.1" height="24.3" fill="#f2f2f2"/>
<rect x="133.0" y="1467.3" width="855.1" height="29.8" fill="#cdddd2"/>
<clipPath id="cc"><rect x="133.0" y="1151.898" width="856.3000000000001" height="348.202"/></clipPath><g clip-path="url(#cc)">
<polyline points="132.6,1444.5 157.0,1454.8 181.4,1439.4 205.9,1452.6 230.3,1437.0 254.7,1450.9 279.1,1432.8 303.5,1450.9 327.9,1451.9 352.4,1447.2 376.8,1419.4 401.2,1454.6 425.6,1428.4 450.0,1423.5 474.4,1408.1 498.9,1427.2 523.3,1458.0 547.7,1454.3 572.1,1409.8 596.5,1402.8 620.9,1430.1 645.4,1444.5 669.8,1387.1 694.2,1355.6 718.6,1356.8 743.0,1374.2 767.4,1308.4 791.9,1346.0 816.3,1374.2 840.7,1294.0 865.1,1333.1 889.5,1332.4 913.9,1374.2 938.4,1277.1 962.8,1283.2 987.2,1166.4" fill="none" stroke="#e2761f" stroke-width="3.8" stroke-linejoin="round" stroke-linecap="butt"/>
<polyline points="132.6,1461.4 157.0,1467.3 181.4,1464.6 205.9,1459.2 230.3,1465.1 254.7,1470.2 279.1,1460.7 303.5,1450.9 327.9,1454.1 352.4,1468.5 376.8,1459.0 401.2,1462.9 425.6,1466.5 450.0,1459.7 474.4,1457.0 498.9,1465.6 523.3,1460.7 547.7,1461.4 572.1,1454.1 596.5,1456.0 620.9,1453.8 645.4,1459.2 669.8,1445.0 694.2,1420.8 718.6,1439.9 743.0,1432.8 767.4,1423.8 791.9,1416.7 816.3,1428.7 840.7,1421.1 865.1,1402.0 889.5,1365.8 913.9,1330.4 938.4,1414.0 962.8,1329.4 987.2,1280.5" fill="none" stroke="#182660" stroke-width="3.8" stroke-linejoin="round" stroke-linecap="butt"/>
<polyline points="132.6,1441.1 157.0,1443.3 181.4,1452.4 205.9,1436.5 230.3,1451.9 254.7,1454.6 279.1,1433.5 303.5,1443.6 327.9,1433.3 352.4,1451.9 376.8,1428.7 401.2,1405.2 425.6,1419.1 450.0,1416.4 474.4,1420.6 498.9,1429.1 523.3,1426.5 547.7,1434.8 572.1,1430.6 596.5,1435.5 620.9,1416.7 645.4,1426.2 669.8,1394.9 694.2,1351.9 718.6,1361.4 743.0,1377.6 767.4,1374.2 791.9,1383.7 816.3,1389.3 840.7,1391.3 865.1,1331.1 889.5,1348.2 913.9,1308.2 938.4,1388.3 962.8,1320.9 987.2,1260.5" fill="none" stroke="#4f8f4e" stroke-width="3.8" stroke-linejoin="round" stroke-linecap="butt"/>
</g>
<rect x="987.0" y="1154.9" width="1.1" height="342.2" fill="#808080" opacity=".45"/>
<g stroke="#808080" stroke-width="1.9" fill="none">
<path d="M127.89999999999999,1154.9 H988.1 M132.4,1154.9 V1497.1 M127.89999999999999,1497.1 H988.1"/>
<path d="M127.89999999999999,1448.2 H132.6 M127.89999999999999,1399.3 H132.6 M127.89999999999999,1350.4 H132.6 M127.89999999999999,1301.6 H132.6 M127.89999999999999,1252.7 H132.6 M127.89999999999999,1203.8 H132.6 M132.6,1497.1 v4.6 M181.4,1497.1 v4.6 M230.3,1497.1 v4.6 M279.1,1497.1 v4.6 M327.9,1497.1 v4.6 M376.8,1497.1 v4.6 M425.6,1497.1 v4.6 M474.4,1497.1 v4.6 M523.3,1497.1 v4.6 M572.1,1497.1 v4.6 M620.9,1497.1 v4.6 M669.8,1497.1 v4.6 M718.6,1497.1 v4.6 M767.4,1497.1 v4.6 M816.3,1497.1 v4.6 M865.1,1497.1 v4.6 M913.9,1497.1 v4.6 M962.8,1497.1 v4.6 "/>
</g>
<text x="118.3" y="1502.1" font-family='"Liberation Sans", Arial, sans-serif' font-size="15.0" fill="#737373" text-anchor="end">0%</text>
<text x="118.3" y="1453.2" font-family='"Liberation Sans", Arial, sans-serif' font-size="15.0" fill="#737373" text-anchor="end">20%</text>
<text x="118.3" y="1404.3" font-family='"Liberation Sans", Arial, sans-serif' font-size="15.0" fill="#737373" text-anchor="end">40%</text>
<text x="118.3" y="1355.4" font-family='"Liberation Sans", Arial, sans-serif' font-size="15.0" fill="#737373" text-anchor="end">60%</text>
<text x="118.3" y="1306.6" font-family='"Liberation Sans", Arial, sans-serif' font-size="15.0" fill="#737373" text-anchor="end">80%</text>
<text x="118.3" y="1257.7" font-family='"Liberation Sans", Arial, sans-serif' font-size="15.0" fill="#737373" text-anchor="end">100%</text>
<text x="118.3" y="1208.8" font-family='"Liberation Sans", Arial, sans-serif' font-size="15.0" fill="#737373" text-anchor="end">120%</text>
<text x="118.3" y="1159.9" font-family='"Liberation Sans", Arial, sans-serif' font-size="15.0" fill="#737373" text-anchor="end">140%</text>
<text transform="translate(136.8,1515.9) rotate(-45)" text-anchor="end" font-family='"Liberation Sans", Arial, sans-serif' font-size="14.7" fill="#737373">04-2013</text>
<text transform="translate(185.6,1515.9) rotate(-45)" text-anchor="end" font-family='"Liberation Sans", Arial, sans-serif' font-size="14.7" fill="#737373">06-2013</text>
<text transform="translate(234.5,1515.9) rotate(-45)" text-anchor="end" font-family='"Liberation Sans", Arial, sans-serif' font-size="14.7" fill="#737373">08-2013</text>
<text transform="translate(283.3,1515.9) rotate(-45)" text-anchor="end" font-family='"Liberation Sans", Arial, sans-serif' font-size="14.7" fill="#737373">10-2013</text>
<text transform="translate(332.1,1515.9) rotate(-45)" text-anchor="end" font-family='"Liberation Sans", Arial, sans-serif' font-size="14.7" fill="#737373">12-2013</text>
<text transform="translate(381.0,1515.9) rotate(-45)" text-anchor="end" font-family='"Liberation Sans", Arial, sans-serif' font-size="14.7" fill="#737373">02-2014</text>
<text transform="translate(429.8,1515.9) rotate(-45)" text-anchor="end" font-family='"Liberation Sans", Arial, sans-serif' font-size="14.7" fill="#737373">04-2014</text>
<text transform="translate(478.6,1515.9) rotate(-45)" text-anchor="end" font-family='"Liberation Sans", Arial, sans-serif' font-size="14.7" fill="#737373">06-2014</text>
<text transform="translate(527.5,1515.9) rotate(-45)" text-anchor="end" font-family='"Liberation Sans", Arial, sans-serif' font-size="14.7" fill="#737373">08-2014</text>
<text transform="translate(576.3,1515.9) rotate(-45)" text-anchor="end" font-family='"Liberation Sans", Arial, sans-serif' font-size="14.7" fill="#737373">10-2014</text>
<text transform="translate(625.1,1515.9) rotate(-45)" text-anchor="end" font-family='"Liberation Sans", Arial, sans-serif' font-size="14.7" fill="#737373">12-2014</text>
<text transform="translate(674.0,1515.9) rotate(-45)" text-anchor="end" font-family='"Liberation Sans", Arial, sans-serif' font-size="14.7" fill="#737373">02-2015</text>
<text transform="translate(722.8,1515.9) rotate(-45)" text-anchor="end" font-family='"Liberation Sans", Arial, sans-serif' font-size="14.7" fill="#737373">04-2015</text>
<text transform="translate(771.6,1515.9) rotate(-45)" text-anchor="end" font-family='"Liberation Sans", Arial, sans-serif' font-size="14.7" fill="#737373">06-2015</text>
<text transform="translate(820.5,1515.9) rotate(-45)" text-anchor="end" font-family='"Liberation Sans", Arial, sans-serif' font-size="14.7" fill="#737373">08-2015</text>
<text transform="translate(869.3,1515.9) rotate(-45)" text-anchor="end" font-family='"Liberation Sans", Arial, sans-serif' font-size="14.7" fill="#737373">10-2015</text>
<text transform="translate(918.1,1515.9) rotate(-45)" text-anchor="end" font-family='"Liberation Sans", Arial, sans-serif' font-size="14.7" fill="#737373">12-2015</text>
<text transform="translate(967.0,1515.9) rotate(-45)" text-anchor="end" font-family='"Liberation Sans", Arial, sans-serif' font-size="14.7" fill="#737373">02-2016</text>
<line x1="541.7" y1="1108.4" x2="581" y2="1108.4" stroke="#e2761f" stroke-width="4.2" stroke-linecap="round"/>
<text x="627.6" y="1113.8" font-family='"Liberation Sans", Arial, sans-serif' font-size="17.1" fill="#000" text-anchor="middle">Townhome</text>
<text x="628.2" y="1134.3" font-family='"Liberation Sans", Arial, sans-serif' font-size="14.9" fill="#000" text-anchor="middle">[135.3%]</text>
<line x1="704.9" y1="1108.4" x2="743.5" y2="1108.4" stroke="#182660" stroke-width="4.2" stroke-linecap="round"/>
<text x="773.5" y="1113.8" font-family='"Liberation Sans", Arial, sans-serif' font-size="17.1" fill="#000" text-anchor="middle">Condo</text>
<text x="776.5" y="1134.3" font-family='"Liberation Sans", Arial, sans-serif' font-size="14.9" fill="#000" text-anchor="middle">[88.6%]</text>
<line x1="835.4" y1="1108.4" x2="874" y2="1108.4" stroke="#4f8f4e" stroke-width="4.2" stroke-linecap="round"/>
<text x="914.7" y="1113.8" font-family='"Liberation Sans", Arial, sans-serif' font-size="17.1" fill="#000" text-anchor="middle">Detached</text>
<text x="917.9" y="1134.3" font-family='"Liberation Sans", Arial, sans-serif' font-size="14.9" fill="#000" text-anchor="middle">[96.8%]</text>
<text x="1093.4" y="1311.5" font-family='"Liberation Sans", Arial, sans-serif' font-size="26" fill="#000" font-weight="bold" text-anchor="middle" textLength="163.5" lengthAdjust="spacingAndGlyphs" filter="url(#fat9)">Seller's Market</text>
<text x="1092.1" y="1468.5" font-family='"Liberation Sans", Arial, sans-serif' font-size="26" fill="#000" font-weight="bold" text-anchor="middle" textLength="183.0" lengthAdjust="spacingAndGlyphs" filter="url(#fat9)">Balanced Market</text>
<text x="1093.1" y="1493.9" font-family='"Liberation Sans", Arial, sans-serif' font-size="26" fill="#000" font-weight="bold" text-anchor="middle" textLength="163.5" lengthAdjust="spacingAndGlyphs" filter="url(#fat9)">Buyer's Market</text>
</g>
<text x="1205.0" y="1602.8" font-family='"Liberation Sans", Arial, sans-serif' font-size="12.9" fill="#595959" text-anchor="end" textLength="975.0" lengthAdjust="spacingAndGlyphs">Current as of April 04, 2016. All data from the Real Estate Board of Greater Vancouver.&#160; Powered by ShowingTime 10K. Percent changes are calculated using rounded figures.</text>
</svg>
</body></html>
